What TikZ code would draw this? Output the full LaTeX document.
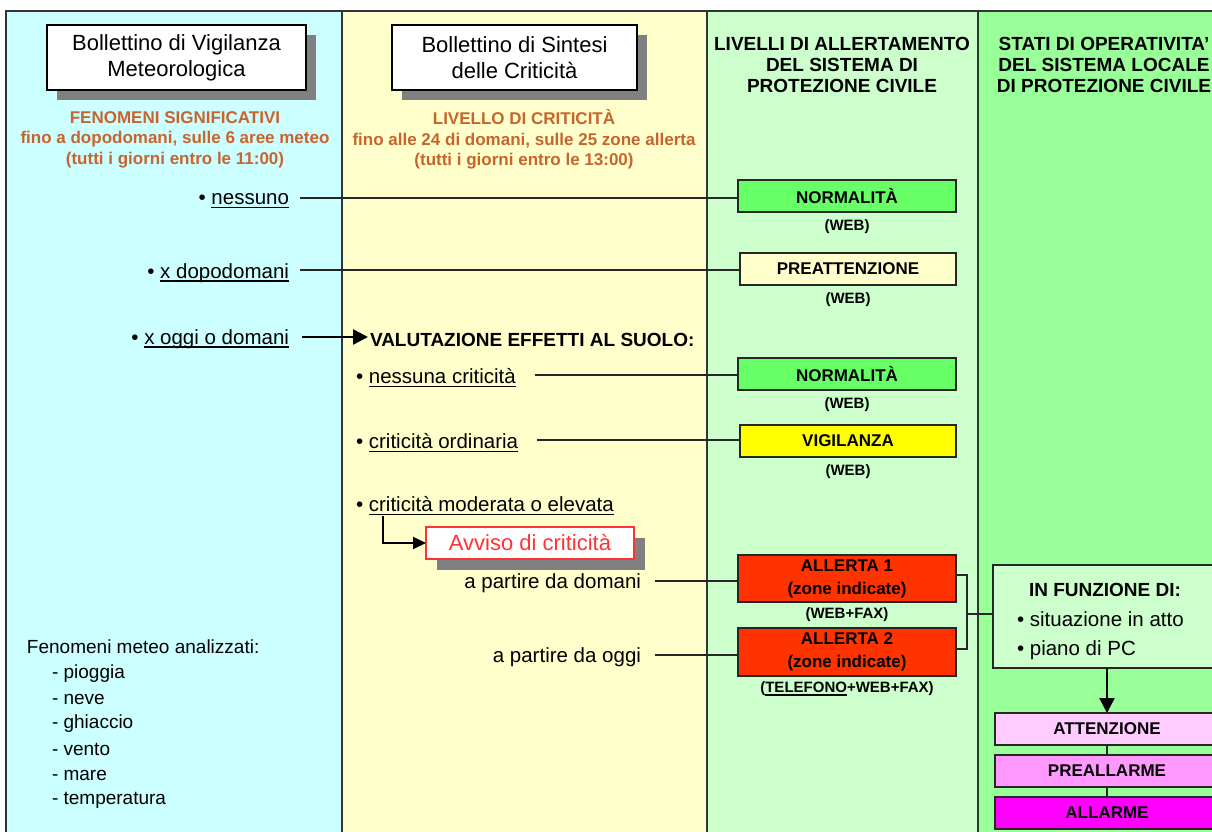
\documentclass[tikz,border=0pt]{standalone}
\usepackage{fontspec}
\setmainfont{Liberation Sans}
\usetikzlibrary{arrows.meta,positioning,shadows}
\definecolor{meteocyan}{HTML}{CCFFFF}
\definecolor{sintyellow}{HTML}{FFFFCC}
\definecolor{livgreen}{HTML}{CCFFCC}
\definecolor{statgreen}{HTML}{99FF99}
\definecolor{normgreen}{HTML}{66FF66}
\definecolor{vigyellow}{HTML}{FFFF00}
\definecolor{allred}{HTML}{FF3300}
\definecolor{avvred}{HTML}{FF3333}
\definecolor{critorange}{HTML}{C8642D}
\definecolor{attpink}{HTML}{FFCCFF}
\definecolor{prepink}{HTML}{FF99FF}
\definecolor{allmag}{HTML}{FF00FF}
\definecolor{shadowgrey}{HTML}{808080}
\definecolor{framegrey}{HTML}{333333}
\newcommand\fs[2]{\fontsize{#1}{#2}\selectfont}
\newcommand\ulin[1]{\setbox0\hbox{#1}\rlap{\rule[-0.18em]{\wd0}{0.09em}}\box0}

\begin{document}
\begin{tikzpicture}[x=1pt,y=-1pt,
  every node/.style={inner sep=0pt, outer sep=0pt},
  frame/.style={line width=1.5pt, draw=framegrey},
  hdrbox/.style={draw=black, line width=1.3pt, fill=white, minimum height=65pt, align=center, font=\fs{22}{26},
    drop shadow={shadow xshift=10pt, shadow yshift=-10pt, fill=shadowgrey, opacity=1}},
  avvbox/.style={draw=avvred, line width=1.3pt, fill=white, text=avvred, minimum width=208pt, minimum height=32pt, font=\fs{22}{26},
    drop shadow={shadow xshift=11pt, shadow yshift=-11pt, fill=shadowgrey, opacity=1}},
  orangetxt/.style={text=critorange, align=center, font=\bfseries\fs{17}{20.5}},
  colhead/.style={align=center, font=\bfseries\fs{19}{21}},
  bigtxt/.style={font=\bfseries\fs{19}{22}},
  item/.style={font=\fs{20.5}{24}},
  listtxt/.style={font=\fs{19}{22}},
  lvlbox/.style={draw=black!85, line width=1.3pt, minimum width=218pt, minimum height=32pt, align=center, font=\bfseries\fs{17}{23}},
  opbox/.style={draw=black!85, line width=1.3pt, minimum width=224pt, minimum height=32pt, font=\bfseries\fs{17}{20}},
  webl/.style={font=\bfseries\fs{15}{18}},
  conn/.style={line width=1.2pt, draw=black!85},
  bigarrow/.style={line width=2.5pt, -{Triangle[length=15pt,width=15pt]}},
  elbow/.style={line width=2pt, -{Triangle[length=13pt,width=12pt]}}]
			%%%%% START %%%%%
			\clip (0,0) rectangle (1212,832);
			
			\fill[meteocyan] (6,11) rectangle (342,840);
			\fill[sintyellow] (342,11) rectangle (707,840);
			\fill[livgreen] (707,11) rectangle (978,840);
			\fill[statgreen] (978,11) rectangle (1230,840);
			\draw[frame] (6,840) -- (6,11) -- (1230,11);
			\draw[frame] (342,11) -- (342,840);
			\draw[frame] (707,11) -- (707,840);
			\draw[frame] (978,11) -- (978,840);
			
			\node[hdrbox, minimum width=259pt] (bvm) at (176.5,57.5) {Bollettino di Vigilanza\\Meteorologica};
			\node[hdrbox, minimum width=245pt] (bsc) at (514.5,57.5) {Bollettino di Sintesi\\delle Criticità};
			
			\node[orangetxt] (fensig) at (175,139.5) {FENOMENI SIGNIFICATIVI\\fino a dopodomani, sulle 6 aree meteo\\(tutti i giorni entro le 11:00)};
			\node[orangetxt] (livcrit) at (524,139.5) {LIVELLO DI CRITICITÀ\\fino alle 24 di domani, sulle 25 zone allerta\\(tutti i giorni entro le 13:00)};
			\node[colhead] (livall) at (842,65) {LIVELLI DI ALLERTAMENTO\\DEL SISTEMA DI\\PROTEZIONE CIVILE};
			\node[colhead] (statop) at (1104,65) {STATI DI OPERATIVITA'\\DEL SISTEMA LOCALE\\DI PROTEZIONE CIVILE};
			
			\node[item, anchor=east] (nessuno) at (289,201) {• \ulin{nessuno}};
			\node[item, anchor=east] (dopodom) at (289,273) {• \ulin{x dopodomani}};
			\node[item, anchor=east] (oggidom) at (289,339) {• \ulin{x oggi o domani}};
			\node[bigtxt, anchor=west] (valut) at (370,340) {VALUTAZIONE EFFETTI AL SUOLO:};
			\node[item, anchor=west] (nescrit) at (356,378) {• \ulin{nessuna criticità}};
			\node[item, anchor=west] (critord) at (356,443) {• \ulin{criticità ordinaria}};
			\node[item, anchor=west] (critmod) at (356,506) {• \ulin{criticità moderata o elevata}};
			\node[avvbox] (avviso) at (530,543) {Avviso di criticità};
			\node[item, anchor=east] (dadomani) at (641,583) {a partire da domani};
			\node[item, anchor=east] (daoggi) at (641,657) {a partire da oggi};
			
			\node[lvlbox, fill=normgreen] (norm1) at (847,196) {NORMALITÀ};
			\node[webl, below=8pt of norm1] (web1) {(WEB)};
			\node[lvlbox, fill=sintyellow, minimum width=216pt] (preatt) at (848,269) {PREATTENZIONE};
			\node[webl, below=8pt of preatt] (web2) {(WEB)};
			\node[lvlbox, fill=normgreen] (norm2) at (847,374) {NORMALITÀ};
			\node[webl, below=8pt of norm2] (web3) {(WEB)};
			\node[lvlbox, fill=vigyellow, minimum width=216pt] (vigil) at (848,441) {VIGILANZA};
			\node[webl, below=8pt of vigil] (web4) {(WEB)};
			\node[lvlbox, fill=allred, minimum height=47pt] (all1) at (847,578.5) {ALLERTA 1\\(zone indicate)};
			\node[webl, below=6pt of all1] (webfax) {(WEB+FAX)};
			\node[lvlbox, fill=allred, minimum height=48pt] (all2) at (847,652) {ALLERTA 2\\(zone indicate)};
			\node[webl, below=6pt of all2] (telwebfax) {(\ulin{TELEFONO}+WEB+FAX)};
			
			\node[draw=black!85, line width=1.3pt, fill=livgreen, minimum width=228pt, minimum height=103pt] (funz) at (1107,616.5) {};
			\node[bigtxt, anchor=west] (infdi) at (1029,590) {IN FUNZIONE DI:};
			\node[item, anchor=west] (sitatto) at (1017,619) {• situazione in atto};
			\node[item, anchor=west] (pianopc) at (1017,650) {• piano di PC};
			
			\node[opbox, fill=attpink] (att) at (1107,729) {ATTENZIONE};
			\node[opbox, fill=prepink] (prea) at (1107,771) {PREALLARME};
			\node[opbox, fill=allmag] (allr) at (1107,813) {ALLARME};
			
			\node[listtxt, anchor=west] (fenan) at (27,647) {Fenomeni meteo analizzati:};
			\node[listtxt, anchor=west] (piog) at (52,674) {- pioggia};
			\node[listtxt, anchor=west] (neve) at (52,699) {- neve};
			\node[listtxt, anchor=west] (ghia) at (52,724) {- ghiaccio};
			\node[listtxt, anchor=west] (vento) at (52,749) {- vento};
			\node[listtxt, anchor=west] (mare) at (52,775) {- mare};
			\node[listtxt, anchor=west] (temp) at (52,800) {- temperatura};
			
			\draw[conn] ([xshift=11pt,yshift=3pt]nessuno.east) -- ([yshift=3pt]nessuno.east -| norm1.west);
			\draw[conn] ([xshift=11pt,yshift=3pt]dopodom.east) -- ([yshift=3pt]dopodom.east -| preatt.west);
			\draw[bigarrow] ([xshift=13pt,yshift=2pt]oggidom.east) -- ([xshift=-2pt,yshift=2pt]oggidom.east -| valut.west);
			\draw[conn] ([xshift=19pt,yshift=3pt]nescrit.east) -- ([yshift=3pt]nescrit.east -| norm2.west);
			\draw[conn] ([xshift=19pt,yshift=3pt]critord.east) -- ([yshift=3pt]critord.east -| vigil.west);
			\coordinate (critfoot) at ([xshift=27pt,yshift=-10pt]critmod.west);
			\draw[elbow] (critfoot) |- (avviso.west);
			\draw[conn] ([xshift=14pt,yshift=2pt]dadomani.east) -- ([yshift=2pt]dadomani.east -| all1.west);
			\draw[conn] ([xshift=14pt,yshift=2pt]daoggi.east) -- ([yshift=2pt]daoggi.east -| all2.west);
			
			\coordinate (brk) at (967,614);
			\draw[conn] ([yshift=3.5pt]all1.east) -| (brk) |- ([yshift=3pt]all2.east);
			\draw[conn] (brk) -- (brk -| funz.west);
			\draw[bigarrow] (funz.south) -- (att.north);
			\draw[conn] (att) -- (prea);
			\draw[conn] (prea) -- (allr);
			%%%%% END %%%%%
\end{tikzpicture}
\end{document}
